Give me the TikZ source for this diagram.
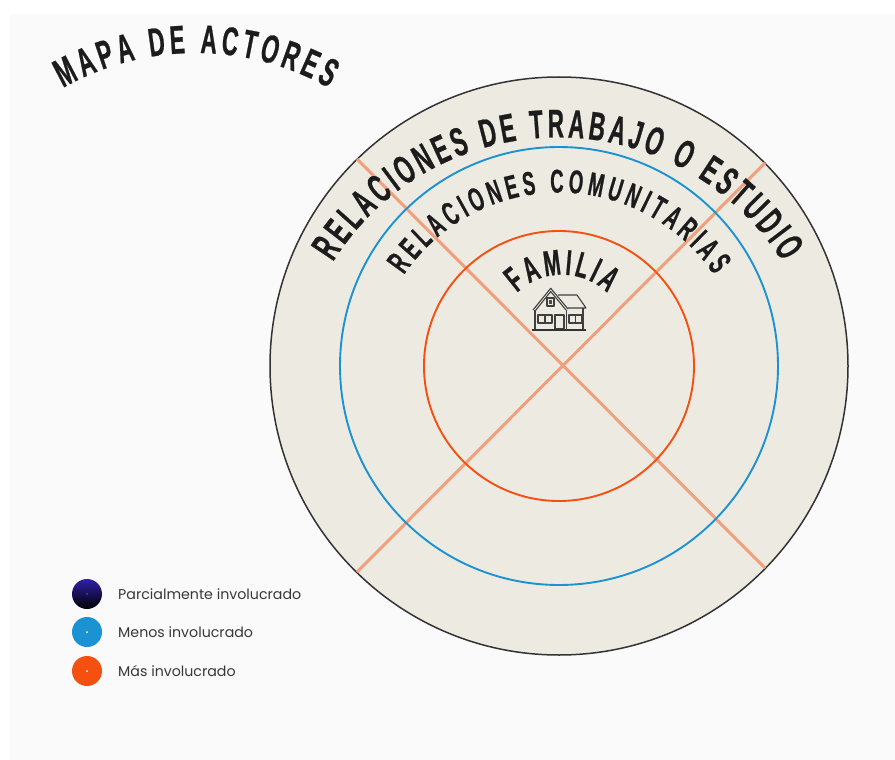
\documentclass[tikz,border=0pt]{standalone}
\usepackage{fontspec}
\usepackage{tikz}
\usetikzlibrary{decorations.text}
\newfontfamily\archead[FakeStretch=0.56,FakeBold=0.6]{Liberation Sans Bold}
\newfontfamily\legendfont{Poppins}
\definecolor{panelgray}{HTML}{FAFAFA}
\definecolor{discbeige}{HTML}{EDEAE2}
\definecolor{ringblue}{HTML}{1B93D2}
\definecolor{ringorange}{HTML}{F4500F}
\definecolor{crossline}{HTML}{F0A07C}
\definecolor{partblue}{HTML}{2E20A8}
\definecolor{inkgray}{HTML}{1C1C1C}
\tikzset{
  ring/.style={line width=1.9pt,radius=#1},
  archtext/.style={decorate,decoration={text along path,text align={fit to path},text={#1}}},
  legenddot/.style={circle,minimum size=30pt,inner sep=0pt},
  legendlabel/.style={anchor=west,text=black!78,font=\legendfont\fontsize{14.2}{16}\selectfont},
  houseline/.style={draw=black!75,line width=1.1pt,line join=round},
}
\begin{document}
\begin{tikzpicture}[x=1pt,y=-1pt]
  \useasboundingbox (0,0) rectangle (895,760);
  \fill[white] (0,0) rectangle (895,760);
  \fill[panelgray] (10,14) rectangle (895,760);
  \coordinate (pCenter) at (559,366);
  % discs
  \draw[fill=discbeige,draw=black!80,line width=1.5pt] (pCenter) circle[radius=289];
  \draw[crossline,line width=3pt] (357,159) -- (765,568);
  \draw[crossline,line width=3pt] (765,163) -- (357,572);
  \draw[ringblue,ring=219] (pCenter) circle[];
  \draw[ringorange,ring=135] (pCenter) circle[];
  % curved headings
  \path[archtext={|\archead\fontsize{40}{40}\selectfont\color{inkgray}|MAPA DE ACTORES}]
    (63,88) arc[start angle=-119.5,end angle=-60.5,radius=270];
  \path[archtext={|\archead\fontsize{40}{40}\selectfont\color{inkgray}|RELACIONES DE TRABAJO O ESTUDIO}]
    (333,262) arc[start angle=-148,end angle=-32,radius=265];
  \path[archtext={|\archead\fontsize{33}{33}\selectfont\color{inkgray}|RELACIONES COMUNITARIAS}]
    (404,275) arc[start angle=-146,end angle=-34,radius=187];
  \path[archtext={|\archead\fontsize{36}{36}\selectfont\color{inkgray}|FAMILIA}]
    (517,293) arc[start angle=-134,end angle=-46,radius=65];
  % house
  \draw[houseline] (533,310) -- (550.7,288.3) -- (568,309);
  \draw[houseline] (535.5,310.5) -- (550.7,291.5) -- (566,310);
  \draw[houseline] (558,295) -- (577,295) -- (586,308) -- (568,308);
  \draw[houseline] (535,310) -- (535,329);
  \draw[houseline] (583,308) -- (583,329);
  \draw[houseline] (566.5,310) -- (566.5,329);
  \draw[houseline] (555,315) rectangle (564,329);
  \draw[houseline] (538,315) rectangle (552,323);
  \draw[houseline] (569,315) rectangle (582,323);
  \draw[houseline] (545,315) -- (545,323);
  \draw[houseline] (575.5,315) -- (575.5,323);
  \draw[houseline] (547,298) rectangle (554,306);
  \fill[black!70] (548.7,299.7) rectangle (552.3,304.3);
  \draw[black!80,line width=1.8pt] (532,330) -- (586,330);
  % legend
  \node[legenddot,top color=partblue,bottom color=black] (dotPart) at (87,594) {};
  \node[legenddot,fill=ringblue] (dotMenos) at (87,632) {};
  \node[legenddot,fill=ringorange] (dotMas) at (87,671) {};
  \fill[white!70!partblue] (dotPart) circle[radius=0.6];
  \fill[white] (dotMenos) circle[radius=1];
  \fill[white] (dotMas) circle[radius=1];
  \node[legendlabel] (txtPart) at (114.7,594) {Parcialmente involucrado};
  \node[legendlabel] (txtMenos) at (114.7,632) {Menos involucrado};
  \node[legendlabel] (txtMas) at (114.7,671) {Más involucrado};
\end{tikzpicture}
\end{document}
